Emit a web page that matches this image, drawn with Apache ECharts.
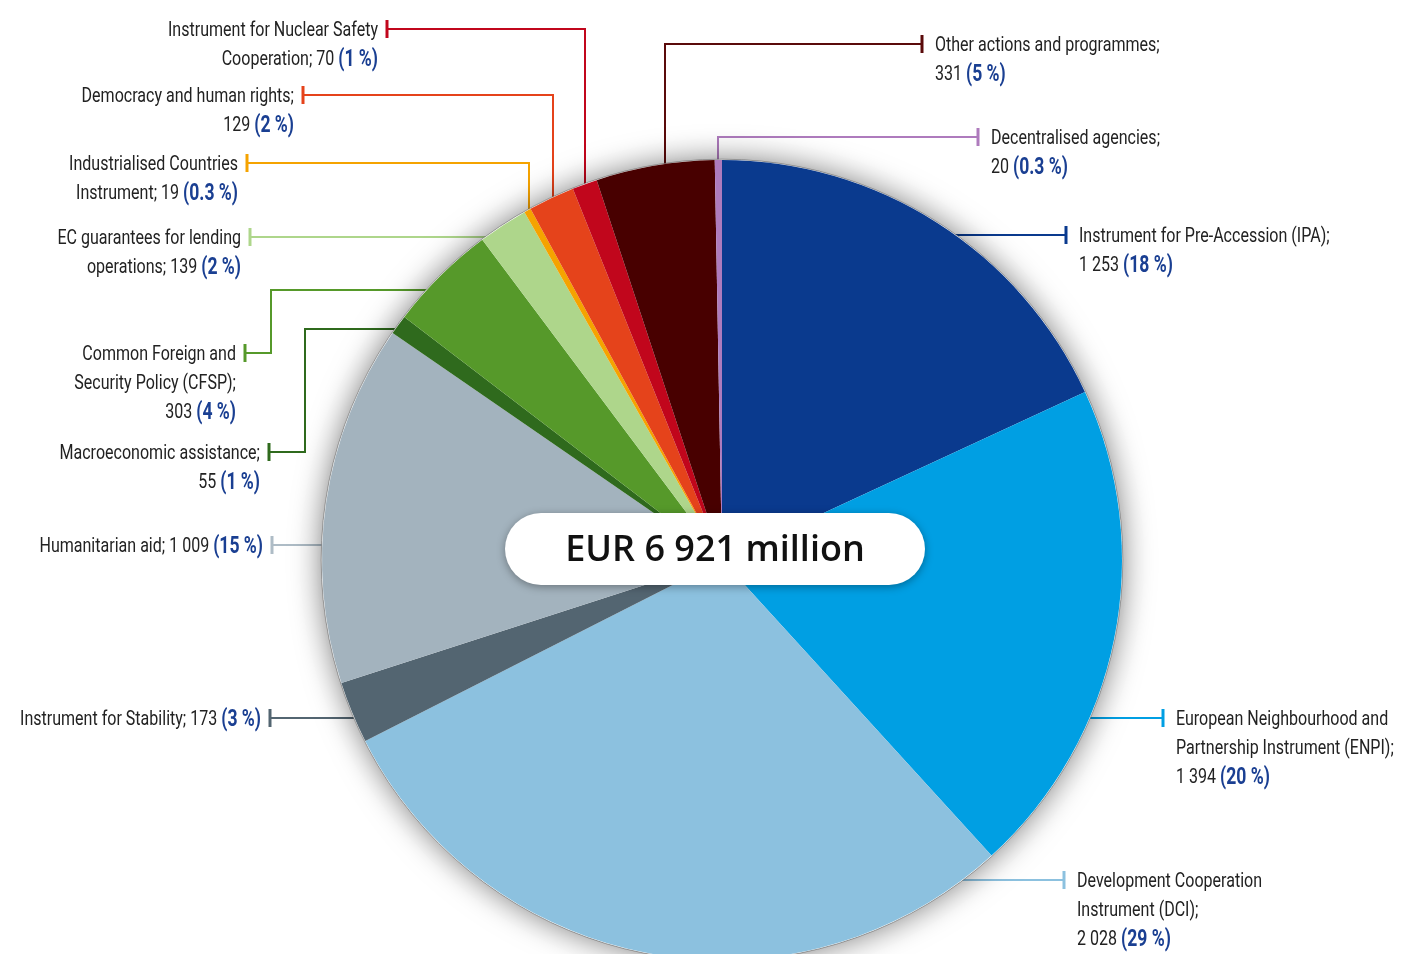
<!DOCTYPE html>
<html>
<head>
<meta charset="utf-8">
<script src="https://cdn.jsdelivr.net/npm/echarts@6/dist/echarts.min.js"></script>
<style>
  html, body { margin: 0; padding: 0; background: #ffffff; }
  #chart { width: 1401px; height: 954px; }
</style>
</head>
<body>
<div id="chart"></div>
<script>
// Budget categories, clockwise from 12 o'clock (EUR million)
const categories = [
  'Instrument for Pre-Accession (IPA)',
  'European Neighbourhood and\nPartnership Instrument (ENPI)',
  'Development Cooperation\nInstrument (DCI)',
  'Instrument for Stability',
  'Humanitarian aid',
  'Macroeconomic assistance',
  'Common Foreign and\nSecurity Policy (CFSP)',
  'EC guarantees for lending\noperations',
  'Industrialised Countries\nInstrument',
  'Democracy and human rights',
  'Instrument for Nuclear Safety\nCooperation',
  'Other actions and programmes',
  'Decentralised agencies'
];
const amounts = [1253, 1394, 2028, 173, 1009, 55, 303, 139, 19, 129, 70, 331, 20];
const shareLabels = ['18', '20', '29', '3', '15', '1', '4', '2', '0.3', '2', '1', '5', '0.3'];
const totalLabel = 'EUR 6 921 million';

const sliceColors = [
  '#0a3a8e', '#009fe3', '#8cc1df', '#536571', '#a3b3be', '#2f6a1d', '#56992a',
  '#aed68b', '#f5a300', '#e5431b', '#c1061c', '#480000', '#ae7bbd'
];
const lineColors = [
  '#0a3a8e', '#009fe3', '#8cc1df', '#536571', '#aebcc6', '#2f6a1d', '#56992a',
  '#aed68b', '#f5a300', '#e5431b', '#c1061c', '#5a0a0a', '#ae7bbd'
];

// Pie geometry
const CX = 722, CY = 560, R = 400;

// Callout layout: tick position, elbow points, the direction of the last
// leg that runs into the pie rim, and whether the value starts a new line
const callouts = [
  { side: 'R', tick: [1066, 235], via: [], edge: 'h', br: true },
  { side: 'R', tick: [1163, 718], via: [], edge: 'h', br: true },
  { side: 'R', tick: [1064, 880], via: [], edge: 'h', br: true },
  { side: 'L', tick: [270, 718], via: [], edge: 'h', br: false },
  { side: 'L', tick: [272, 545], via: [], edge: 'h', br: false },
  { side: 'L', tick: [269, 452], via: [[305, 452], [305, 329]], edge: 'h', br: true },
  { side: 'L', tick: [245, 353], via: [[271, 353], [271, 290]], edge: 'h', br: true },
  { side: 'L', tick: [250, 237], via: [], edge: 'h', br: false },
  { side: 'L', tick: [247, 163], via: [[529, 163]], edge: 'v', br: false },
  { side: 'L', tick: [303, 95], via: [[553, 95]], edge: 'v', br: true },
  { side: 'L', tick: [387, 29], via: [[585, 29]], edge: 'v', br: false },
  { side: 'R', tick: [922, 44], via: [[665, 44]], edge: 'v', br: true },
  { side: 'R', tick: [978, 137], via: [[718, 137]], edge: 'v', br: true }
];

const LABEL_FONT = 'Roboto, "Liberation Sans", sans-serif';
const LABEL_SIZE = 21;
const SHARE_SIZE = 23;
const LINE_STEP = 29;

// Labels are set in a condensed face: squeeze the regular face horizontally
// so the longest callout line keeps its intended width (210 px)
const measureCtx = document.createElement('canvas').getContext('2d');
measureCtx.font = LABEL_SIZE + 'px ' + LABEL_FONT;
const LABEL_SCALE = 210 / measureCtx.measureText(categories[10].split('\n')[0]).width;

function fmtAmount(v) {
  return String(v).replace(/\B(?=(\d{3})+(?!\d))/g, ' ');
}

// Point where a horizontal or vertical leg meets the pie rim (a little inside)
function rimPoint(p, dir) {
  const inset = 6;
  if (dir === 'v') {
    const dx = p[0] - CX;
    const dy = Math.sqrt(Math.max(R * R - dx * dx, 0));
    return [p[0], CY - dy + inset];
  }
  const dy = p[1] - CY;
  const dx = Math.sqrt(Math.max(R * R - dy * dy, 0));
  const s = p[0] < CX ? -1 : 1;
  return [CX + s * (dx - inset), p[1]];
}

const graphics = [];

// Soft shadow and thin rim under the pie
graphics.push({
  type: 'circle',
  shape: { cx: CX, cy: CY, r: R + 0.8 },
  style: {
    fill: '#ffffff',
    stroke: 'rgba(90,90,90,0.55)',
    lineWidth: 1,
    shadowBlur: 30,
    shadowColor: 'rgba(0,0,0,0.5)'
  },
  z: 1,
  silent: true
});

categories.forEach(function (name, i) {
  const c = callouts[i];
  const color = lineColors[i];
  const start = c.tick;
  const pts = [start].concat(c.via);
  pts.push(rimPoint(pts[pts.length - 1], c.edge));

  graphics.push({
    type: 'polyline',
    shape: { points: pts },
    style: { stroke: color, lineWidth: 2, fill: null },
    z: 0,
    silent: true
  });
  graphics.push({
    type: 'rect',
    shape: { x: start[0] - 1.5, y: start[1] - 9, width: 3, height: 18 },
    style: { fill: color },
    z: 0,
    silent: true
  });

  // Label lines: name, then amount and share (same line or next line)
  const nameLines = name.split('\n');
  const valuePart = fmtAmount(amounts[i]) + ' {b|(' + shareLabels[i] + ' %)}';
  const lines = nameLines.slice();
  if (c.br) {
    lines[lines.length - 1] += ';';
    lines.push(valuePart);
  } else {
    lines[lines.length - 1] += '; ' + valuePart;
  }

  const tx = c.side === 'L' ? start[0] - 9 : start[0] + 13;
  lines.forEach(function (ln, k) {
    graphics.push({
      type: 'text',
      x: tx,
      y: start[1] + 2 + k * LINE_STEP,
      scaleX: LABEL_SCALE,
      z: 5,
      silent: true,
      style: {
        text: ln,
        align: c.side === 'L' ? 'right' : 'left',
        verticalAlign: 'middle',
        fontFamily: LABEL_FONT,
        fontSize: LABEL_SIZE,
        fill: '#222222',
        rich: {
          b: {
            fontFamily: LABEL_FONT,
            fontSize: SHARE_SIZE,
            fontWeight: 'bold',
            fill: '#1a3f92'
          }
        }
      }
    });
  });
});

// Total badge in the middle
graphics.push({
  type: 'rect',
  shape: { x: 505, y: 513, width: 420, height: 72, r: 36 },
  style: {
    fill: '#ffffff',
    shadowBlur: 8,
    shadowOffsetY: 2,
    shadowColor: 'rgba(0,0,0,0.35)'
  },
  z: 20,
  silent: true
});
graphics.push({
  type: 'text',
  x: 715,
  y: 551,
  z: 21,
  silent: true,
  style: {
    text: totalLabel,
    align: 'center',
    verticalAlign: 'middle',
    fontFamily: "'Open Sans', 'Noto Sans', sans-serif",
    fontWeight: 600,
    fontSize: 36,
    fill: '#111111'
  }
});

const chart = echarts.init(document.getElementById('chart'), null, { renderer: 'canvas' });
chart.setOption({
  animation: false,
  backgroundColor: '#ffffff',
  series: [{
    type: 'pie',
    center: [CX, CY],
    radius: R,
    startAngle: 90,
    clockwise: true,
    silent: true,
    z: 2,
    label: { show: false },
    labelLine: { show: false },
    emphasis: { disabled: true },
    itemStyle: { borderWidth: 0 },
    data: categories.map(function (n, i) {
      return { name: n, value: amounts[i], itemStyle: { color: sliceColors[i] } };
    })
  }],
  graphic: { elements: graphics }
});
</script>
</body>
</html>
